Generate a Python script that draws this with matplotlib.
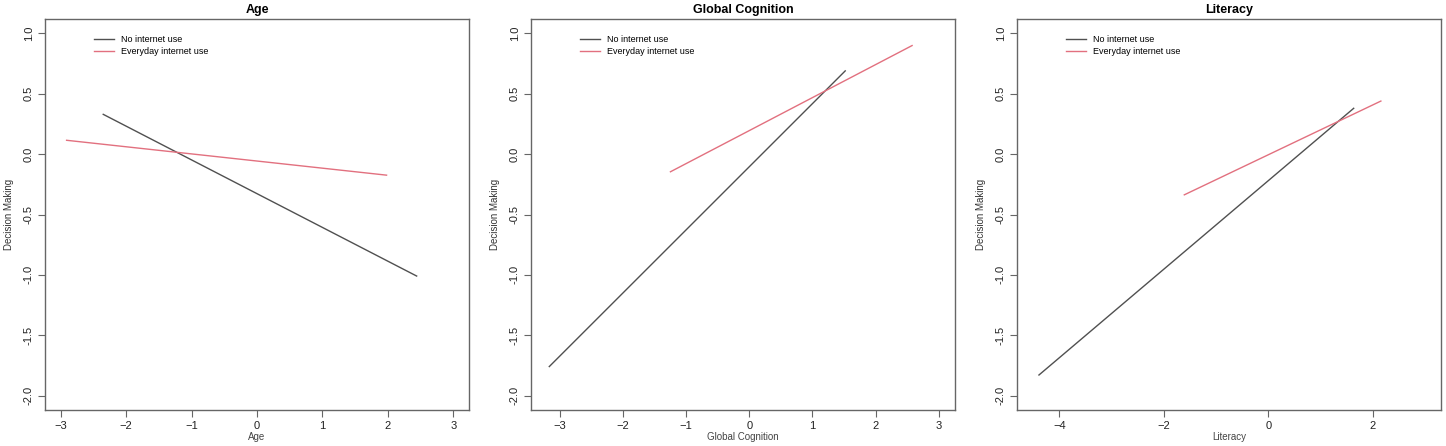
import matplotlib
matplotlib.use("Agg")
import matplotlib.pyplot as plt

plt.rcParams['font.family'] = ['Liberation Sans', 'DejaVu Sans']

# panel titles / x labels
panels = ["Age", "Global Cognition", "Literacy"]
series = ["No internet use", "Everyday internet use"]

# line endpoints: (x0, x1), (y0, y1)
no_x = [(-2.35, 2.44), (-3.17, 1.52), (-4.39, 1.63)]
no_y = [(0.33, -1.01), (-1.76, 0.69), (-1.83, 0.38)]
ev_x = [(-2.91, 1.98), (-1.25, 2.58), (-1.61, 2.15)]
ev_y = [(0.115, -0.174), (-0.146, 0.90), (-0.337, 0.44)]

xlims = [(-3.24, 3.24), (-3.46, 3.26), (-4.81, 3.30)]
xticks = [[-3, -2, -1, 0, 1, 2, 3], [-3, -2, -1, 0, 1, 2, 3], [-4, -2, 0, 2]]
yticks = [-2.0, -1.5, -1.0, -0.5, 0.0, 0.5, 1.0]

W, H = 1446, 446
fig = plt.figure(figsize=(W / 100, H / 100), dpi=100)
lefts = [45, 531, 1017]
edge = "#666666"

for i, name in enumerate(panels):
    ax = fig.add_axes([lefts[i] / W, 36 / H, 424 / W, 391 / H])
    ax.plot(no_x[i], no_y[i], color="#505050", lw=1.0, label=series[0])
    ax.plot(ev_x[i], ev_y[i], color="#E2707F", lw=1.0, label=series[1])
    ax.set_xlim(*xlims[i])
    ax.set_ylim(-2.12, 1.12)
    ax.set_xticks(xticks[i])
    ax.set_yticks(yticks)
    ax.set_yticklabels([f"{v:.1f}" for v in yticks], rotation=90, va="center")
    ax.tick_params(labelsize=8, length=5, color=edge, labelcolor="#222222", pad=3)
    for s in ax.spines.values():
        s.set_color(edge)
        s.set_linewidth(1.0)
    ax.set_title(name, fontsize=9, fontweight="bold", pad=4)
    ax.set_xlabel(name, fontsize=7, labelpad=1, color="#444444")
    ax.set_ylabel("Decision Making", fontsize=7, labelpad=7, color="#333333")
    ax.legend(loc="upper left", bbox_to_anchor=(0.10, 0.975), frameon=False,
              fontsize=6.5, handlelength=2.2, labelspacing=0.3, borderpad=0.2)

fig.savefig("out.png", dpi=100)
